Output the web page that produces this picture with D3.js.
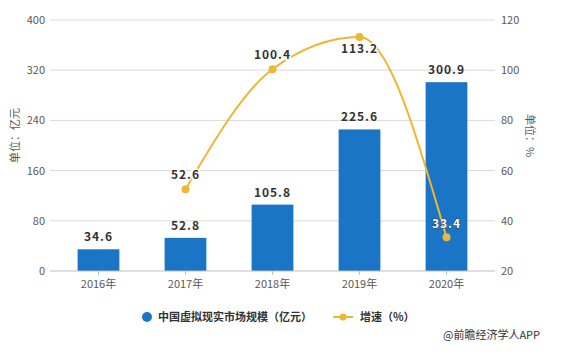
<!DOCTYPE html>
<html lang="zh">
<head>
  <meta charset="UTF-8">
  <title>中国虚拟现实市场规模</title>
  <script src="https://cdn.jsdelivr.net/npm/d3@7"></script>
  <style>
    body { margin: 0; background: #fff; }
    svg text { font-family: "Noto Sans CJK SC", "Microsoft YaHei", sans-serif; }
  </style>
</head>
<body>
<div class="chart-area"></div>
<script>
  const years = ['2016年', '2017年', '2018年', '2019年', '2020年']
  const marketSize = [34.6, 52.8, 105.8, 225.6, 300.9]
  const growth = [null, 52.6, 100.4, 113.2, 33.4]
  const leftTicks = [0, 80, 160, 240, 320, 400]
  const rightTicks = [20, 40, 60, 80, 100, 120]

  const width = 561, height = 354
  const margin = { top: 20, right: 71, bottom: 83, left: 55 }
  const innerW = width - margin.left - margin.right
  const innerH = height - margin.top - margin.bottom

  const svg = d3.select('.chart-area')
    .append('svg')
    .attr('width', width)
    .attr('height', height)

  const g = svg.append('g')
    .attr('transform', 'translate(' + margin.left + ',' + margin.top + ')')

  const x = d3.scaleBand().domain(years).range([0, innerW]).paddingInner(0.52).paddingOuter(0.26)
  const xc = d => x(d) + x.bandwidth() / 2
  const yL = d3.scaleLinear().domain([0, 400]).range([innerH, 0])
  const yR = d3.scaleLinear().domain([20, 120]).range([innerH, 0])

  // 그리드
  g.append('g')
    .selectAll('line')
    .data(leftTicks.slice(1))
    .enter().append('line')
    .attr('x1', -5).attr('x2', innerW + 5)
    .attr('y1', d => yL(d)).attr('y2', d => yL(d))
    .attr('stroke', '#d9d9d9')

  // 왼쪽 축
  const leftAxis = g.append('g')
    .call(d3.axisLeft(yL).tickValues(leftTicks).tickSize(0).tickPadding(10))
  leftAxis.select('.domain').remove()
  leftAxis.selectAll('text').attr('fill', '#595959').attr('font-size', 11)

  // 오른쪽 축
  const rightAxis = g.append('g')
    .attr('transform', 'translate(' + innerW + ',0)')
    .call(d3.axisRight(yR).tickValues(rightTicks).tickSize(0).tickPadding(11))
  rightAxis.select('.domain').remove()
  rightAxis.selectAll('text').attr('fill', '#595959').attr('font-size', 11)

  // 막대
  g.selectAll('.bar')
    .data(marketSize)
    .enter().append('rect')
    .attr('class', 'bar')
    .attr('x', (d, i) => x(years[i]))
    .attr('y', d => yL(d))
    .attr('width', x.bandwidth())
    .attr('height', d => innerH - yL(d))
    .attr('fill', '#1b75c6')

  g.selectAll('.bar-label')
    .data(marketSize)
    .enter().append('text')
    .attr('x', (d, i) => xc(years[i]))
    .attr('y', d => yL(d) - 8)
    .attr('text-anchor', 'middle')
    .attr('font-size', 12)
    .attr('font-weight', 'bold')
    .attr('letter-spacing', 1)
    .attr('fill', '#333')
    .text(d => d)

  // x축
  const xAxis = g.append('g')
    .attr('transform', 'translate(0,' + innerH + ')')
    .call(d3.axisBottom(x).tickSize(4).tickPadding(5))
  xAxis.select('.domain').attr('d', 'M-5,0H' + (innerW + 5)).attr('stroke', '#bfbfbf')
  xAxis.selectAll('.tick line').attr('stroke', '#bfbfbf')
  xAxis.selectAll('text').attr('fill', '#595959').attr('font-size', 11)

  // 증속 라인
  const pts = growth.map((v, i) => ({ year: years[i], v })).filter(d => d.v !== null)
  const line = d3.line()
    .x(d => xc(d.year))
    .y(d => yR(d.v))
    .curve(d3.curveMonotoneX)

  g.append('path')
    .datum(pts)
    .attr('d', line)
    .attr('fill', 'none')
    .attr('stroke', '#efb634')
    .attr('stroke-width', 2)

  g.selectAll('.dot')
    .data(pts)
    .enter().append('circle')
    .attr('cx', d => xc(d.year))
    .attr('cy', d => yR(d.v))
    .attr('r', 4)
    .attr('fill', '#efb634')

  const offsets = [-10, -10, 16, -9]
  g.selectAll('.line-label')
    .data(pts)
    .enter().append('text')
    .attr('x', d => xc(d.year))
    .attr('y', (d, i) => yR(d.v) + offsets[i])
    .attr('text-anchor', 'middle')
    .attr('font-size', 12)
    .attr('font-weight', 'bold')
    .attr('letter-spacing', 1)
    .attr('fill', (d, i) => i === 3 ? '#fff' : '#333')
    .attr('stroke', (d, i) => i === 3 ? '#333' : '#fff')
    .attr('stroke-width', (d, i) => i === 3 ? 0.8 : 3)
    .attr('paint-order', 'stroke')
    .text(d => d.v)

  // 축 제목
  svg.append('text')
    .attr('transform', 'translate(19,' + (margin.top + innerH / 2 - 10) + ') rotate(-90)')
    .attr('text-anchor', 'middle')
    .attr('font-size', 11)
    .attr('fill', '#595959')
    .text('单位：亿元')

  svg.append('text')
    .attr('transform', 'translate(526,' + (margin.top + innerH / 2 - 10) + ') rotate(90)')
    .attr('text-anchor', 'middle')
    .attr('font-size', 11)
    .attr('fill', '#595959')
    .text('单位：%')

  // 범례
  const legend = svg.append('g').attr('transform', 'translate(0,317)')
  legend.append('circle').attr('cx', 147).attr('cy', 0).attr('r', 5).attr('fill', '#1b75c6')
  legend.append('text').attr('x', 158).attr('y', 4)
    .attr('font-size', 11).attr('font-weight', 'bold').attr('fill', '#333')
    .text('中国虚拟现实市场规模（亿元）')
  legend.append('line').attr('x1', 333).attr('x2', 353).attr('y1', 0).attr('y2', 0)
    .attr('stroke', '#efb634').attr('stroke-width', 2)
  legend.append('circle').attr('cx', 343).attr('cy', 0).attr('r', 3.5).attr('fill', '#efb634')
  legend.append('text').attr('x', 360).attr('y', 4)
    .attr('font-size', 11).attr('font-weight', 'bold').attr('fill', '#333')
    .text('增速（%）')

  svg.append('text')
    .attr('x', 443).attr('y', 339)
    .attr('font-size', 11)
    .attr('fill', '#333')
    .text('@前瞻经济学人APP')
</script>
</body>
</html>
